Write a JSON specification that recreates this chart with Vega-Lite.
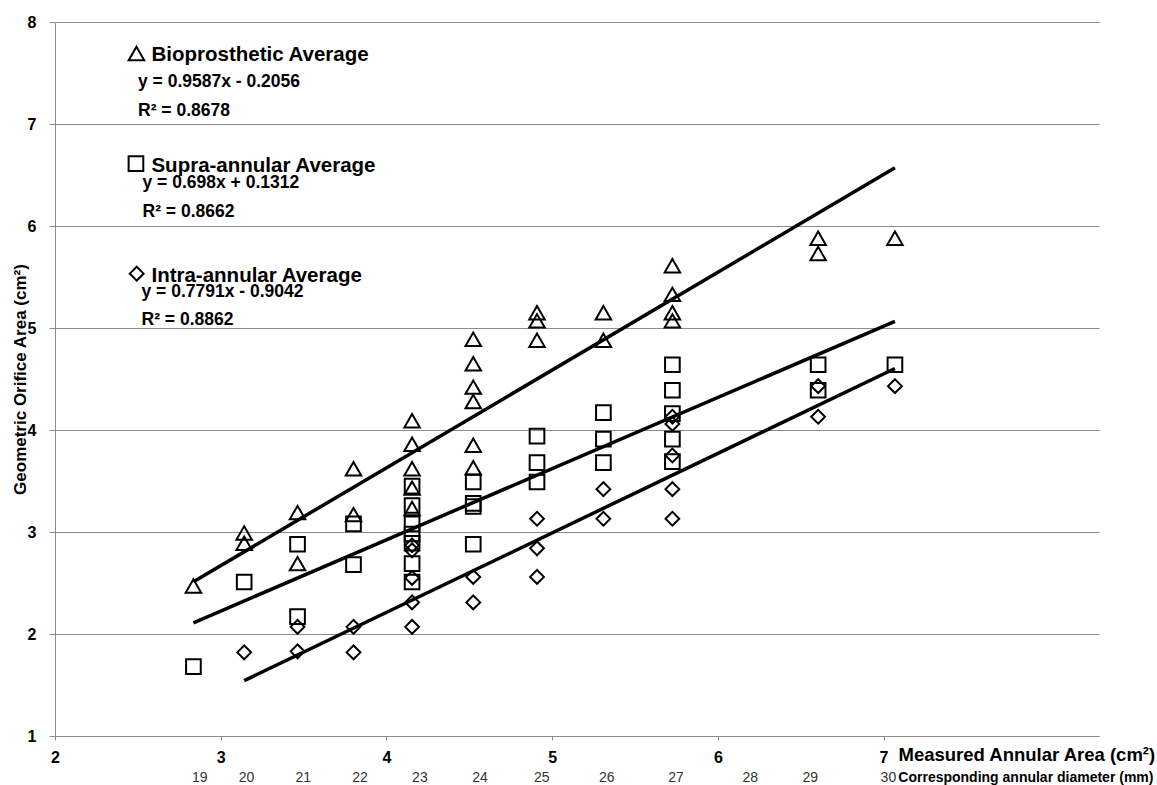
{
  "$schema": "https://vega.github.io/schema/vega-lite/v6.json",
  "width": 1044,
  "height": 714,
  "autosize": {"type": "none"},
  "padding": {"left": 55, "top": 22, "right": 58, "bottom": 49},
  "background": "white",
  "config": {
    "font": "Liberation Sans",
    "view": {"stroke": null}
  },
  "datasets": {
    "points": [
      {"series": "Bioprosthetic", "area": 2.8353, "goa": 2.47},
      {"series": "Bioprosthetic", "area": 3.1416, "goa": 2.99},
      {"series": "Bioprosthetic", "area": 3.1416, "goa": 2.89},
      {"series": "Bioprosthetic", "area": 3.4636, "goa": 3.19},
      {"series": "Bioprosthetic", "area": 3.4636, "goa": 2.69},
      {"series": "Bioprosthetic", "area": 3.8013, "goa": 3.62},
      {"series": "Bioprosthetic", "area": 3.8013, "goa": 3.17},
      {"series": "Bioprosthetic", "area": 4.1548, "goa": 4.09},
      {"series": "Bioprosthetic", "area": 4.1548, "goa": 3.86},
      {"series": "Bioprosthetic", "area": 4.1548, "goa": 3.62},
      {"series": "Bioprosthetic", "area": 4.1548, "goa": 3.43},
      {"series": "Bioprosthetic", "area": 4.1548, "goa": 3.23},
      {"series": "Bioprosthetic", "area": 4.5239, "goa": 4.89},
      {"series": "Bioprosthetic", "area": 4.5239, "goa": 4.65},
      {"series": "Bioprosthetic", "area": 4.5239, "goa": 4.42},
      {"series": "Bioprosthetic", "area": 4.5239, "goa": 4.28},
      {"series": "Bioprosthetic", "area": 4.5239, "goa": 3.85},
      {"series": "Bioprosthetic", "area": 4.5239, "goa": 3.63},
      {"series": "Bioprosthetic", "area": 4.9087, "goa": 5.15},
      {"series": "Bioprosthetic", "area": 4.9087, "goa": 5.07},
      {"series": "Bioprosthetic", "area": 4.9087, "goa": 4.88},
      {"series": "Bioprosthetic", "area": 5.3093, "goa": 5.15},
      {"series": "Bioprosthetic", "area": 5.3093, "goa": 4.88},
      {"series": "Bioprosthetic", "area": 5.7256, "goa": 5.61},
      {"series": "Bioprosthetic", "area": 5.7256, "goa": 5.33},
      {"series": "Bioprosthetic", "area": 5.7256, "goa": 5.15},
      {"series": "Bioprosthetic", "area": 5.7256, "goa": 5.07},
      {"series": "Bioprosthetic", "area": 6.6052, "goa": 5.88},
      {"series": "Bioprosthetic", "area": 6.6052, "goa": 5.73},
      {"series": "Bioprosthetic", "area": 7.0686, "goa": 5.88},

      {"series": "Supra-annular", "area": 2.8353, "goa": 1.68},
      {"series": "Supra-annular", "area": 3.1416, "goa": 2.51},
      {"series": "Supra-annular", "area": 3.4636, "goa": 2.88},
      {"series": "Supra-annular", "area": 3.4636, "goa": 2.17},
      {"series": "Supra-annular", "area": 3.8013, "goa": 3.08},
      {"series": "Supra-annular", "area": 3.8013, "goa": 2.68},
      {"series": "Supra-annular", "area": 4.1548, "goa": 3.45},
      {"series": "Supra-annular", "area": 4.1548, "goa": 3.26},
      {"series": "Supra-annular", "area": 4.1548, "goa": 3.08},
      {"series": "Supra-annular", "area": 4.1548, "goa": 2.98},
      {"series": "Supra-annular", "area": 4.1548, "goa": 2.89},
      {"series": "Supra-annular", "area": 4.1548, "goa": 2.69},
      {"series": "Supra-annular", "area": 4.1548, "goa": 2.51},
      {"series": "Supra-annular", "area": 4.5239, "goa": 3.49},
      {"series": "Supra-annular", "area": 4.5239, "goa": 3.28},
      {"series": "Supra-annular", "area": 4.5239, "goa": 3.25},
      {"series": "Supra-annular", "area": 4.5239, "goa": 2.88},
      {"series": "Supra-annular", "area": 4.9087, "goa": 3.94},
      {"series": "Supra-annular", "area": 4.9087, "goa": 3.68},
      {"series": "Supra-annular", "area": 4.9087, "goa": 3.49},
      {"series": "Supra-annular", "area": 5.3093, "goa": 4.17},
      {"series": "Supra-annular", "area": 5.3093, "goa": 3.91},
      {"series": "Supra-annular", "area": 5.3093, "goa": 3.68},
      {"series": "Supra-annular", "area": 5.7256, "goa": 4.64},
      {"series": "Supra-annular", "area": 5.7256, "goa": 4.39},
      {"series": "Supra-annular", "area": 5.7256, "goa": 4.16},
      {"series": "Supra-annular", "area": 5.7256, "goa": 3.91},
      {"series": "Supra-annular", "area": 5.7256, "goa": 3.69},
      {"series": "Supra-annular", "area": 6.6052, "goa": 4.64},
      {"series": "Supra-annular", "area": 6.6052, "goa": 4.39},
      {"series": "Supra-annular", "area": 7.0686, "goa": 4.64},

      {"series": "Intra-annular", "area": 3.1416, "goa": 1.82},
      {"series": "Intra-annular", "area": 3.4636, "goa": 2.07},
      {"series": "Intra-annular", "area": 3.4636, "goa": 1.83},
      {"series": "Intra-annular", "area": 3.8013, "goa": 2.07},
      {"series": "Intra-annular", "area": 3.8013, "goa": 1.82},
      {"series": "Intra-annular", "area": 4.1548, "goa": 2.87},
      {"series": "Intra-annular", "area": 4.1548, "goa": 2.82},
      {"series": "Intra-annular", "area": 4.1548, "goa": 2.55},
      {"series": "Intra-annular", "area": 4.1548, "goa": 2.31},
      {"series": "Intra-annular", "area": 4.1548, "goa": 2.07},
      {"series": "Intra-annular", "area": 4.5239, "goa": 2.56},
      {"series": "Intra-annular", "area": 4.5239, "goa": 2.31},
      {"series": "Intra-annular", "area": 4.9087, "goa": 3.13},
      {"series": "Intra-annular", "area": 4.9087, "goa": 2.84},
      {"series": "Intra-annular", "area": 4.9087, "goa": 2.56},
      {"series": "Intra-annular", "area": 5.3093, "goa": 3.42},
      {"series": "Intra-annular", "area": 5.3093, "goa": 3.13},
      {"series": "Intra-annular", "area": 5.7256, "goa": 4.13},
      {"series": "Intra-annular", "area": 5.7256, "goa": 4.06},
      {"series": "Intra-annular", "area": 5.7256, "goa": 3.75},
      {"series": "Intra-annular", "area": 5.7256, "goa": 3.42},
      {"series": "Intra-annular", "area": 5.7256, "goa": 3.13},
      {"series": "Intra-annular", "area": 6.6052, "goa": 4.43},
      {"series": "Intra-annular", "area": 6.6052, "goa": 4.13},
      {"series": "Intra-annular", "area": 7.0686, "goa": 4.43}
    ],
    "trend": [
      {"series": "Bioprosthetic", "area": 2.8353, "goa": 2.512},
      {"series": "Bioprosthetic", "area": 7.0686, "goa": 6.571},
      {"series": "Supra-annular", "area": 2.8353, "goa": 2.110},
      {"series": "Supra-annular", "area": 7.0686, "goa": 5.065},
      {"series": "Intra-annular", "area": 3.1416, "goa": 1.543},
      {"series": "Intra-annular", "area": 7.0686, "goa": 4.603}
    ],
    "key": [
      {"series": "Bioprosthetic", "area": 2.4915, "goa": 7.691},
      {"series": "Supra-annular", "area": 2.4885, "goa": 6.612},
      {"series": "Intra-annular", "area": 2.493, "goa": 5.533}
    ],
    "keytext": [
      {"kind": "heading", "text": "Bioprosthetic Average", "area": 2.582, "goa": 7.613},
      {"kind": "heading", "text": "Supra-annular Average", "area": 2.582, "goa": 6.534},
      {"kind": "heading", "text": "Intra-annular Average", "area": 2.582, "goa": 5.454},
      {"kind": "fit", "text": "y = 0.9587x - 0.2056", "area": 2.501, "goa": 7.362},
      {"kind": "fit", "text": "R² = 0.8678", "area": 2.501, "goa": 7.080},
      {"kind": "fit", "text": "y = 0.698x + 0.1312", "area": 2.528, "goa": 6.371},
      {"kind": "fit", "text": "R² = 0.8662", "area": 2.528, "goa": 6.086},
      {"kind": "fit", "text": "y = 0.7791x - 0.9042", "area": 2.522, "goa": 5.307},
      {"kind": "fit", "text": "R² = 0.8862", "area": 2.522, "goa": 5.030}
    ],
    "diameters": [
      {"diameter": "19", "area": 2.874},
      {"diameter": "20", "area": 3.156},
      {"diameter": "21", "area": 3.498},
      {"diameter": "22", "area": 3.840},
      {"diameter": "23", "area": 4.202},
      {"diameter": "24", "area": 4.565},
      {"diameter": "25", "area": 4.937},
      {"diameter": "26", "area": 5.330},
      {"diameter": "27", "area": 5.748},
      {"diameter": "28", "area": 6.195},
      {"diameter": "29", "area": 6.558},
      {"diameter": "30", "area": 7.029}
    ]
  },
  "layer": [
    {
      "data": {"name": "points"},
      "mark": {"type": "point", "filled": false, "stroke": "#000000", "strokeWidth": 2, "opacity": 1},
      "encoding": {
        "x": {
          "field": "area", "type": "quantitative",
          "scale": {"domain": [2, 8.3], "nice": false, "zero": false},
          "axis": {
            "values": [2, 3, 4, 5, 6, 7],
            "format": "d",
            "grid": false,
            "domainColor": "#8c8c8c",
            "tickColor": "#8c8c8c",
            "tickSize": 4,
            "labelFontSize": 16,
            "labelFontWeight": "bold",
            "labelColor": "#000000",
            "labelPadding": 9,
            "labelFlush": false,
            "title": "Measured Annular Area (cm²)",
            "titleFontSize": 18.5,
            "titleFontWeight": "bold",
            "titleColor": "#000000",
            "titleX": 843,
            "titleY": 24,
            "titleAlign": "left",
            "titleBaseline": "alphabetic"
          }
        },
        "y": {
          "field": "goa", "type": "quantitative",
          "scale": {"domain": [1, 8], "nice": false, "zero": false},
          "axis": {
            "values": [1, 2, 3, 4, 5, 6, 7, 8],
            "format": "d",
            "grid": true,
            "gridColor": "#8c8c8c",
            "gridWidth": 1,
            "domainColor": "#8c8c8c",
            "tickColor": "#8c8c8c",
            "tickSize": 6,
            "labelFontSize": 16,
            "labelFontWeight": "bold",
            "labelColor": "#000000",
            "labelPadding": 13,
            "labelOverlap": false,
            "title": "Geometric Orifice Area (cm²)",
            "titleFontSize": 17,
            "titleFontWeight": "bold",
            "titleColor": "#000000",
            "titleAngle": -90,
            "titleX": -30,
            "titleY": 357,
            "titleAlign": "center",
            "titleBaseline": "alphabetic"
          }
        },
        "shape": {
          "field": "series", "type": "nominal",
          "scale": {"domain": ["Bioprosthetic", "Supra-annular", "Intra-annular"], "range": ["triangle-up", "square", "diamond"]},
          "legend": null
        },
        "size": {
          "field": "series", "type": "nominal",
          "scale": {"domain": ["Bioprosthetic", "Supra-annular", "Intra-annular"], "range": [240, 190, 180]},
          "legend": null
        }
      }
    },
    {
      "data": {"name": "trend"},
      "mark": {"type": "line", "color": "#000000", "strokeWidth": 3.5},
      "encoding": {
        "x": {"field": "area", "type": "quantitative"},
        "y": {"field": "goa", "type": "quantitative"},
        "detail": {"field": "series", "type": "nominal"}
      }
    },
    {
      "data": {"name": "key"},
      "mark": {"type": "point", "filled": false, "stroke": "#000000", "strokeWidth": 2, "opacity": 1},
      "encoding": {
        "x": {"field": "area", "type": "quantitative"},
        "y": {"field": "goa", "type": "quantitative"},
        "shape": {"field": "series", "type": "nominal", "legend": null},
        "size": {"field": "series", "type": "nominal", "legend": null}
      }
    },
    {
      "data": {"name": "keytext"},
      "transform": [{"filter": "datum.kind === 'heading'"}],
      "mark": {"type": "text", "align": "left", "baseline": "alphabetic", "fontSize": 20.5, "fontWeight": "bold", "color": "#000000"},
      "encoding": {
        "x": {"field": "area", "type": "quantitative"},
        "y": {"field": "goa", "type": "quantitative"},
        "text": {"field": "text"}
      }
    },
    {
      "data": {"name": "keytext"},
      "transform": [{"filter": "datum.kind === 'fit'"}],
      "mark": {"type": "text", "align": "left", "baseline": "alphabetic", "fontSize": 17.5, "fontWeight": "bold", "color": "#000000"},
      "encoding": {
        "x": {"field": "area", "type": "quantitative"},
        "y": {"field": "goa", "type": "quantitative"},
        "text": {"field": "text"}
      }
    },
    {
      "data": {"name": "diameters"},
      "mark": {"type": "text", "align": "center", "baseline": "alphabetic", "fontSize": 14, "color": "#333333"},
      "encoding": {
        "x": {"field": "area", "type": "quantitative"},
        "y": {"datum": 0.545, "type": "quantitative"},
        "text": {"field": "diameter"}
      }
    },
    {
      "data": {"values": [{"label": "Corresponding annular diameter (mm)", "area": 7.089}]},
      "mark": {"type": "text", "align": "left", "baseline": "alphabetic", "fontSize": 14, "fontWeight": "bold", "color": "#000000"},
      "encoding": {
        "x": {"field": "area", "type": "quantitative"},
        "y": {"datum": 0.545, "type": "quantitative"},
        "text": {"field": "label"}
      }
    }
  ]
}
